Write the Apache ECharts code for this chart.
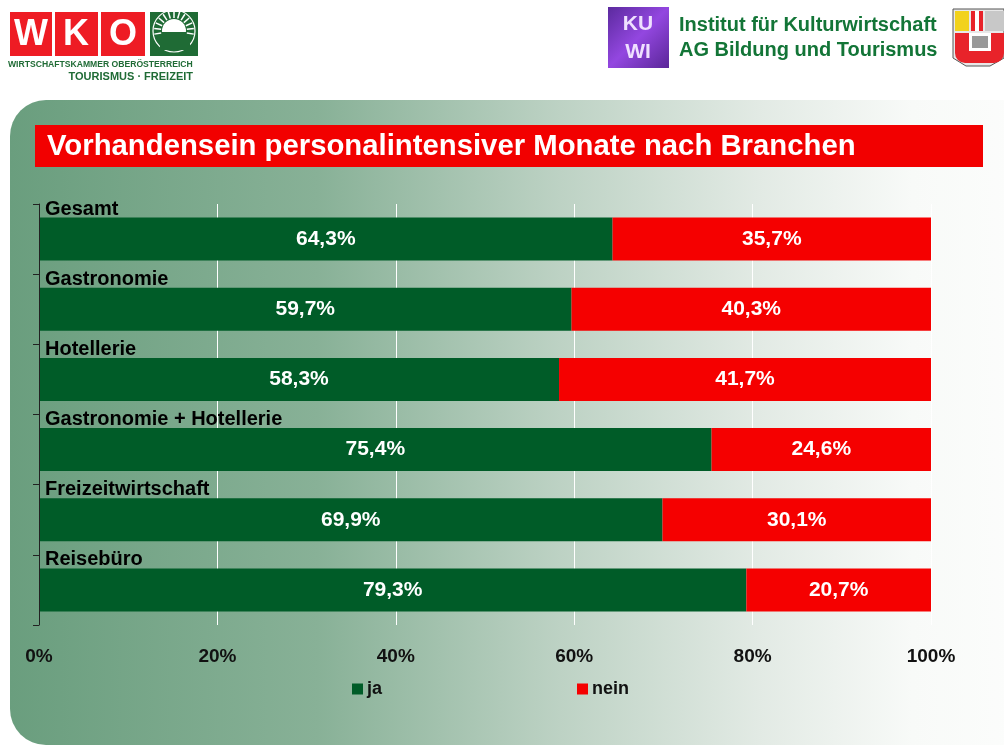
<!DOCTYPE html>
<html>
<head>
<meta charset="utf-8">
<script src="https://cdn.jsdelivr.net/npm/echarts@6/dist/echarts.min.js"></script>
<style>
html,body{margin:0;padding:0;background:#fff;}
#chart{width:1004px;height:745px;}
</style>
</head>
<body>
<div id="chart"></div>
<script>
var categories = ['Gesamt', 'Gastronomie', 'Hotellerie', 'Gastronomie + Hotellerie', 'Freizeitwirtschaft', 'Reisebüro'];
var jaValues = [64.3, 59.7, 58.3, 75.4, 69.9, 79.3];
var neinValues = [35.7, 40.3, 41.7, 24.6, 30.1, 20.7];
var seriesNames = ['ja', 'nein'];
var titleText = 'Vorhandensein personalintensiver Monate nach Branchen';

var FONT = 'Liberation Sans, Arial, sans-serif';
var chart = echarts.init(document.getElementById('chart'));

function pct(v) { return v.toFixed(1).replace('.', ',') + '%'; }

var sunLines = [];
for (var i = 0; i < 13; i++) {
  var a = Math.PI * (0.95 + i * 1.1 / 12);
  sunLines.push({
    type: 'line',
    shape: { x1: 174 + 13 * Math.cos(a), y1: 31 + 13 * Math.sin(a), x2: 174 + 20 * Math.cos(a), y2: 31 + 20 * Math.sin(a) },
    style: { stroke: '#ffffff', lineWidth: 1.5 }, z: 12
  });
}

var graphics = [
  { type: 'rect', shape: { x: 10, y: 100, width: 1100, height: 645, r: [36, 0, 0, 36] },
    style: { fill: new echarts.graphic.LinearGradient(0, 0, 1, 0, [
      { offset: 0, color: '#6a9e7e' },
      { offset: 0.28, color: '#88b197' },
      { offset: 0.5, color: '#bdd2c4' },
      { offset: 0.68, color: '#e2eae4' },
      { offset: 0.82, color: '#f8faf8' },
      { offset: 1, color: '#ffffff' }
    ]) }, z: -10, silent: true },
  { type: 'rect', shape: { x: 35, y: 125, width: 948, height: 42 }, style: { fill: '#f20000' }, z: 10 },
  { type: 'text', x: 47, y: 147, style: { text: titleText, fill: '#ffffff', font: 'bold 29.3px ' + FONT, textVerticalAlign: 'middle' }, z: 11 },
  { type: 'rect', shape: { x: 10, y: 12, width: 42, height: 44 }, style: { fill: '#ee1c24' }, z: 10 },
  { type: 'rect', shape: { x: 55, y: 12, width: 43, height: 44 }, style: { fill: '#ee1c24' }, z: 10 },
  { type: 'rect', shape: { x: 101, y: 12, width: 44, height: 44 }, style: { fill: '#ee1c24' }, z: 10 },
  { type: 'rect', shape: { x: 150, y: 12, width: 48, height: 44 }, style: { fill: '#1f6b35' }, z: 10 },
  { type: 'text', x: 31, y: 35, style: { text: 'W', fill: '#fff', font: 'bold 36px ' + FONT, textAlign: 'center', textVerticalAlign: 'middle' }, z: 11 },
  { type: 'text', x: 76, y: 35, style: { text: 'K', fill: '#fff', font: 'bold 36px ' + FONT, textAlign: 'center', textVerticalAlign: 'middle' }, z: 11 },
  { type: 'text', x: 123, y: 35, style: { text: 'O', fill: '#fff', font: 'bold 36px ' + FONT, textAlign: 'center', textVerticalAlign: 'middle' }, z: 11 },
  { type: 'circle', shape: { cx: 174, cy: 31, r: 21 }, style: { fill: 'none', stroke: '#ffffff', lineWidth: 1.2 }, z: 11 },
  { type: 'circle', shape: { cx: 174, cy: 31, r: 12 }, style: { fill: '#ffffff' }, z: 11 },
  { type: 'rect', shape: { x: 160, y: 32, width: 30, height: 18 }, style: { fill: '#1f6b35' }, z: 11 },
  { type: 'text', x: 8, y: 65, style: { text: 'WIRTSCHAFTSKAMMER OBERÖSTERREICH', fill: '#1f6b35', font: 'bold 8.6px ' + FONT, textVerticalAlign: 'middle' }, z: 11 },
  { type: 'text', x: 193, y: 77, style: { text: 'TOURISMUS · FREIZEIT', fill: '#1f6b35', font: 'bold 11px ' + FONT, textAlign: 'right', textVerticalAlign: 'middle' }, z: 11 },
  { type: 'rect', shape: { x: 608, y: 7, width: 61, height: 61 },
    style: { fill: new echarts.graphic.LinearGradient(0, 0, 1, 1, [
      { offset: 0, color: '#5b2a9e' }, { offset: 0.5, color: '#9347e0' }, { offset: 1, color: '#5a2698' }
    ]) }, z: 10 },
  { type: 'text', x: 638, y: 24, style: { text: 'KU', fill: '#efe0ff', font: 'bold 21px ' + FONT, textAlign: 'center', textVerticalAlign: 'middle' }, z: 11 },
  { type: 'text', x: 638, y: 52, style: { text: 'WI', fill: '#efe0ff', font: 'bold 21px ' + FONT, textAlign: 'center', textVerticalAlign: 'middle' }, z: 11 },
  { type: 'text', x: 679, y: 25, style: { text: 'Institut für Kulturwirtschaft', fill: '#137537', font: 'bold 20px ' + FONT, textVerticalAlign: 'middle' }, z: 11 },
  { type: 'text', x: 679, y: 50, style: { text: 'AG Bildung und Tourismus', fill: '#137537', font: 'bold 20px ' + FONT, textVerticalAlign: 'middle' }, z: 11 },
  { type: 'polygon', shape: { points: [[953, 9], [1004, 9], [1004, 58], [990, 66], [966, 66], [953, 58]] }, style: { fill: '#e8e8e8', stroke: '#555', lineWidth: 1 }, z: 10 },
  { type: 'rect', shape: { x: 955, y: 11, width: 14, height: 20 }, style: { fill: '#f2d21c' }, z: 11 },
  { type: 'rect', shape: { x: 971, y: 11, width: 12, height: 20 }, style: { fill: '#e8232a' }, z: 11 },
  { type: 'rect', shape: { x: 975, y: 11, width: 4, height: 20 }, style: { fill: '#ffffff' }, z: 12 },
  { type: 'rect', shape: { x: 985, y: 11, width: 19, height: 20 }, style: { fill: '#c8c8c8' }, z: 11 },
  { type: 'rect', shape: { x: 955, y: 33, width: 49, height: 30, r: [0, 0, 10, 10] }, style: { fill: '#e8232a' }, z: 11 },
  { type: 'rect', shape: { x: 969, y: 33, width: 22, height: 18 }, style: { fill: '#ffffff' }, z: 12 },
  { type: 'rect', shape: { x: 972, y: 36, width: 16, height: 12 }, style: { fill: '#999999' }, z: 13 }
].concat(sunLines);

var labelFont = { color: '#fff', fontFamily: FONT, fontWeight: 'bold', fontSize: 21 };

var option = {
  animation: false,
  textStyle: { fontFamily: FONT },
  graphic: graphics,
  legend: {
    data: seriesNames,
    left: 352, top: 680, padding: 0,
    itemWidth: 11, itemHeight: 11, itemGap: 195,
    icon: 'rect',
    textStyle: { fontFamily: FONT, fontWeight: 'bold', fontSize: 18, color: '#111', padding: [0, 0, 0, -1] }
  },
  grid: { left: 39, right: 73, top: 204, bottom: 120, containLabel: false },
  xAxis: {
    type: 'value', min: 0, max: 100, interval: 20,
    axisLine: { show: false }, axisTick: { show: false },
    splitLine: { show: true, lineStyle: { color: '#ffffff', width: 1 } },
    axisLabel: { formatter: '{value}%', fontFamily: FONT, fontWeight: 'bold', fontSize: 19, color: '#111', margin: 22 }
  },
  yAxis: {
    type: 'category', data: categories, inverse: true, z: 5,
    axisLine: { show: true, lineStyle: { color: '#222', width: 1 } },
    axisTick: { show: true, length: 6, lineStyle: { color: '#222' } },
    axisLabel: { show: false }
  },
  series: [
    { name: seriesNames[0], type: 'bar', stack: 'all', data: jaValues, barWidth: 43,
      itemStyle: { color: '#005c28' },
      label: Object.assign({ show: true, position: 'inside', formatter: function (p) { return pct(p.value); } }, labelFont) },
    { name: seriesNames[1], type: 'bar', stack: 'all', data: neinValues, barWidth: 43,
      itemStyle: { color: '#f50000' },
      label: Object.assign({ show: true, position: 'inside', formatter: function (p) { return pct(p.value); } }, labelFont) },
    { name: 'Kategorie', type: 'scatter', symbolSize: 0, z: 6,
      itemStyle: { opacity: 1 },
      data: categories.map(function (c) { return [0, c]; }),
      label: { show: true, position: 'right', distance: 0, offset: [6, -30], opacity: 1,
        formatter: function (p) { return p.value[1]; },
        color: '#000', fontFamily: FONT, fontWeight: 'bold', fontSize: 20 },
      tooltip: { show: false } }
  ]
};
chart.setOption(option);
</script>
</body>
</html>
